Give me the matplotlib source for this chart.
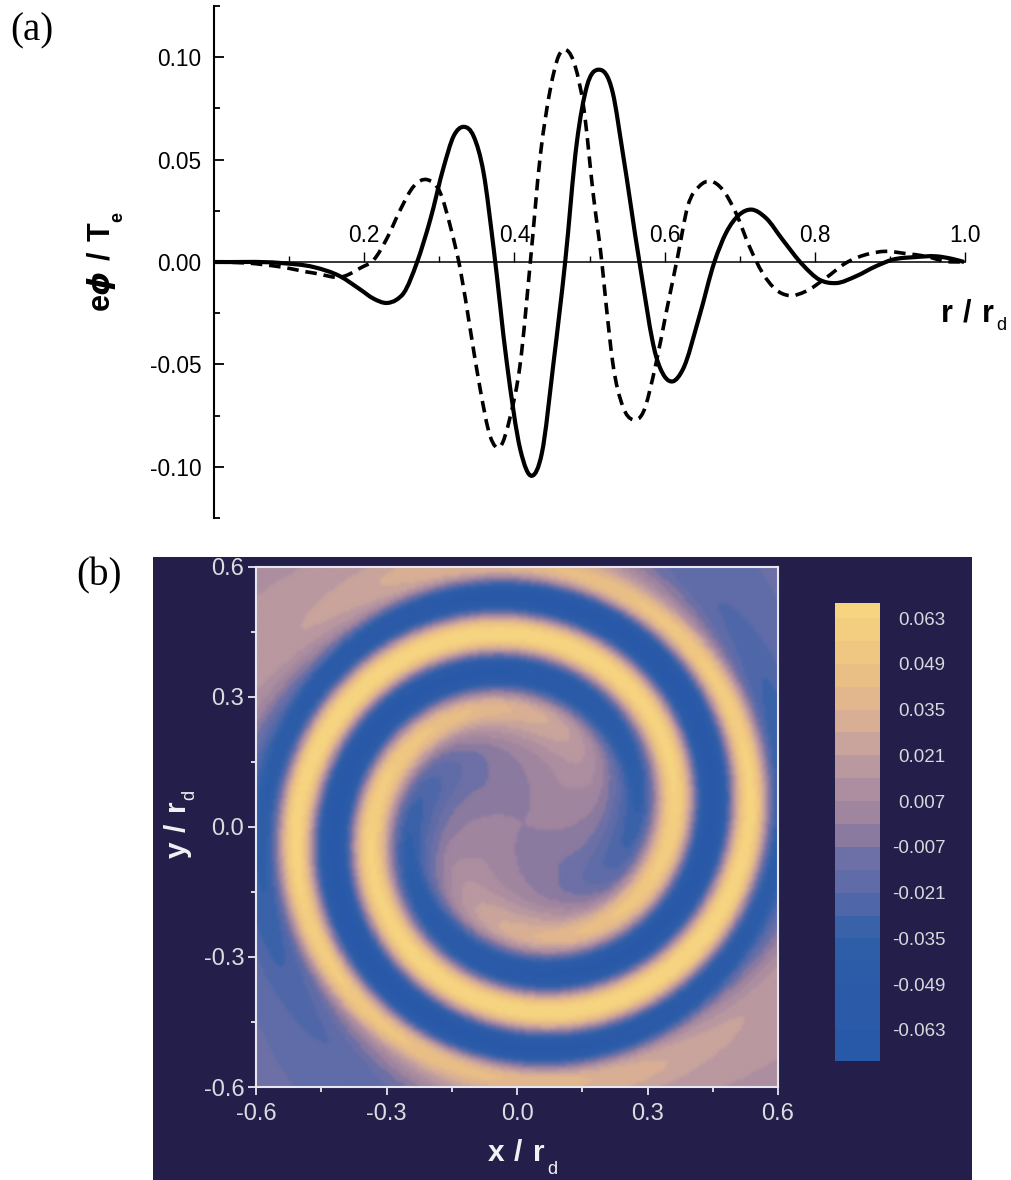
import numpy as np
import matplotlib
matplotlib.use("Agg")
import matplotlib.pyplot as plt
from matplotlib.colors import ListedColormap, BoundaryNorm
from matplotlib.patches import Rectangle, PathPatch
from matplotlib.path import Path

W, H = 1011, 1180

# panel (a), values
r_solid = [0, .089, .133, .168, .195, .212, .2305, .2427, .2527, .270, .288, .306, .319, .3324, .3457, .359,
           .372, .390, .408, .4233, .4366, .452, .4676, .483, .4965, .512, .531, .5443, .5665,
           .5887, .600, .6108, .6241, .6463, .6663, .6818, .6995, .715, .7349, .7571, .7837,
           .806, .8281, .8546, .8812, .9033, .9344, .961, .9832, .9988]
phi_solid = [0, -.0005, -.0025, -.007, -.0135, -.0178, -.0200, -.0185, -.0151, -.0005, .0207, .0466, .0614, .0660,
             .0614, .0435, .0077, -.0495, -.0918, -.1044, -.0933, -.0495, 0, .058, .0858, .0939,
             .0826, .0533, 0, -.0461, -.0559, -.0583, -.0526, -.0265, 0, .0142, .0231, .0256,
             .0215, .0109, -.0013, -.0086, -.0103, -.007, -.0021, .0011, .0024, .0028, .0015, 0]
r_dash = [0, .0443, .0887, .133, .1729, .195, .2128, .2305, .2482, .266, .2837, .3014, .3147, .328,
          .3413, .3546, .3679, .3812, .3945, .4078, .4211, .4344, .4477, .4588, .4699, .4809, .492,
          .5053, .5164, .5222, .531, .5443, .5576, .5709, .5887, .602, .6175, .6308, .6463, .6618,
          .6773, .695, .7128, .7305, .7482, .766, .7881, .8147, .8413, .8679, .8945, .9211, .9477,
          .9743, .9988]
phi_dash = [0, -.0005, -.0024, -.0054, -.007, -.0029, .0011, .0117, .0256, .0370, .0402, .0337, .0174,
            -.0037, -.0331, -.0624, -.0853, -.0901, -.0754, -.0495, -.0005, .0516, .0842, .1005,
            .1034, .0956, .0761, .0321, 0, -.021, -.0493, -.0705, -.077, -.0738, -.0493, -.0249,
            .0028, .0272, .037, .0394, .0353, .0239, .0077, -.0054, -.0135, -.0164, -.0143, -.0078,
            -.0005, .0036, .0052, .0041, .0028, .0003, 0]
xticks_a = [0.2, 0.4, 0.6, 0.8, 1.0]
xminor_a = [0.1, 0.3, 0.5, 0.7, 0.9]
yticks_a = [-0.10, -0.05, 0.00, 0.05, 0.10]
yminor_a = [-0.125, -0.075, -0.025, 0.025, 0.075, 0.125]

# panel (b): spiral mode amplitude and phase against radius
mode_r = [0, .05, .10, .15, .18, .22, .26, .30, .35, .42, .50, .54, .58, .62, .70, .85, .95]
mode_amp = [0, .002, .006, .008, .015, .025, .035, .05, .064, .070, .070, .065, .048, .036, .02, .014, .012]
phase_r = [0, .05, .125, .18, .249, .345, .435, .525, .605, .70, .85, .95]
phase_deg = [20, 50, 90, 122, 180, 360, 540, 720, 900, 986, 1040, 1060]
centre_x, centre_y = 0.014, 0.010

levels = [-.07, -.063, -.056, -.049, -.042, -.035, -.028, -.021, -.014, -.007, 0,
          .007, .014, .021, .028, .035, .042, .049, .056, .063, .07]
level_colors = ['#2858a8', '#2a5aa8', '#2b5ba8', '#2c5ca8', '#2f5ea8', '#3a62a8', '#4f67a8', '#5f6ca8',
                '#6d70a6', '#8b7a9f', '#a0859f', '#ac8ea0', '#ba98a0', '#c9a49c', '#d8af94', '#e2b78d',
                '#e9bf86', '#efc782', '#f3cd80', '#f6d480']
bar_ticks = [-.063, -.049, -.035, -.021, -.007, .007, .021, .035, .049, .063]
bar_labels = ['-0.063', '-0.049', '-0.035', '-0.021', '-0.007', '0.007', '0.021', '0.035', '0.049', '0.063']
ticks_b = [-0.6, -0.3, 0.0, 0.3, 0.6]
minor_b = [-0.45, -0.15, 0.15, 0.45]
ticklabels_b = ['-0.6', '-0.3', '0.0', '0.3', '0.6']

plt.rcParams['font.family'] = ['Liberation Sans', 'DejaVu Sans']
plt.rcParams['mathtext.fontset'] = 'custom'
plt.rcParams['mathtext.rm'] = 'Liberation Sans:bold'
plt.rcParams['mathtext.it'] = 'DejaVu Sans:italic:bold'
plt.rcParams['mathtext.bf'] = 'Liberation Sans:bold'


def px_axes(fig, left, top, right, bottom):
    # axes from pixel edges of the picture
    return fig.add_axes([left / W, 1 - bottom / H, (right - left) / W, (bottom - top) / H])


def smooth_path(xs, ys):
    # bezier pieces through the read points, so the line has no corners
    xs = np.asarray(xs, float)
    ys = np.asarray(ys, float)
    slope = np.gradient(ys, xs)
    verts = [(xs[0], ys[0])]
    codes = [Path.MOVETO]
    for i in range(len(xs) - 1):
        d = (xs[i + 1] - xs[i]) / 3
        verts += [(xs[i] + d, ys[i] + slope[i] * d),
                  (xs[i + 1] - d, ys[i + 1] - slope[i + 1] * d),
                  (xs[i + 1], ys[i + 1])]
        codes += [Path.CURVE4] * 3
    return Path(verts, codes)


fig = plt.figure(figsize=(W / 100, H / 100), dpi=100, facecolor='white')

# ---- panel (a)
ax = px_axes(fig, 214, 6, 965, 518)
ax.set_xlim(0, 1)
ax.set_ylim(-0.125, 0.125)
ax.patch.set_visible(False)
ax.add_patch(PathPatch(smooth_path(r_solid, phi_solid), fill=False, edgecolor='black', lw=3.0, zorder=3))
ax.add_patch(PathPatch(smooth_path(r_dash, phi_dash), fill=False, edgecolor='black', lw=2.6,
                       linestyle=(0, (3.2, 1.9)), zorder=3))
for side in ['top', 'right']:
    ax.spines[side].set_visible(False)
ax.spines['bottom'].set_position(('data', 0))
ax.spines['bottom'].set_linewidth(1.1)
ax.spines['left'].set_linewidth(1.5)
ax.set_xticks(xticks_a)
ax.set_xticks(xminor_a, minor=True)
ax.set_yticks(yticks_a)
ax.set_yticks(yminor_a, minor=True)
ax.set_yticklabels(['-0.10', '-0.05', '0.00', '0.05', '0.10'])
ax.tick_params(axis='x', which='major', direction='in', length=7, width=1,
               labeltop=False, labelbottom=False)
ax.tick_params(axis='x', which='minor', direction='in', length=4, width=1)
ax.tick_params(axis='y', which='major', direction='in', length=7, width=1.3, labelsize=16.3, pad=9)
ax.tick_params(axis='y', which='minor', direction='in', length=4, width=1.3)
for t in xticks_a:
    ax.annotate(f'{t:.1f}', (t, 0), xytext=(0, 11), textcoords='offset points', ha='center',
                va='bottom', fontsize=16.3, zorder=2)

fig.text(101 / W, 1 - 266 / H, '$\\mathrm{e}\\mathit{\u03d5}\\ /\\ \\mathrm{T}$', rotation=90,
         ha='center', va='center', fontsize=22)
fig.text(118 / W, 1 - 217 / H, 'e', rotation=90, ha='center', va='center', fontsize=13, fontweight='bold')
fig.text(967 / W, 1 - 314 / H, '$\\mathrm{r\\ /\\ r}$', ha='center', va='center', fontsize=22)
fig.text(1001 / W, 1 - 326 / H, 'd', ha='center', va='center', fontsize=13)
fig.text(10 / W, 1 - 31 / H, '(a)', family='Liberation Serif', ha='left', va='center', fontsize=28)
fig.text(76 / W, 1 - 576 / H, '(b)', family='Liberation Serif', ha='left', va='center', fontsize=28)

# ---- panel (b)
fig.add_artist(Rectangle((153 / W, 0), (972 - 153) / W, (1180 - 557) / H, transform=fig.transFigure,
                         facecolor='#241f4a', edgecolor='none', zorder=-1))
cmap = ListedColormap(level_colors)
cmap.set_under(level_colors[0])
cmap.set_over(level_colors[-1])
norm = BoundaryNorm(levels, cmap.N)

x = np.linspace(-0.6, 0.6, 200)
y = np.linspace(-0.6, 0.6, 200)
X, Y = np.meshgrid(x, y)
R = np.hypot(X - centre_x, Y - centre_y)
TH = np.arctan2(Y - centre_y, X - centre_x)
r_fine = np.linspace(0, 0.95, 381)
win = np.hanning(25)
win = win / win.sum()
amp_fine = np.convolve(np.pad(np.interp(r_fine, mode_r, mode_amp), 12, mode='edge'), win, mode='valid')
phase_fine = np.convolve(np.pad(np.interp(r_fine, phase_r, phase_deg), 12, mode='edge'), win, mode='valid')
field = np.interp(R, r_fine, amp_fine) * np.cos(2 * TH - np.radians(np.interp(R, r_fine, phase_fine)))

axb = px_axes(fig, 256, 567, 778, 1087)
# the bands are soft in the scan, so blur in colour rather than in value
axb.imshow(field, origin='lower', extent=(-0.6, 0.6, -0.6, 0.6), aspect='auto', cmap=cmap, norm=norm,
           interpolation='bicubic', interpolation_stage='rgba')
axb.set_xlim(-0.6, 0.6)
axb.set_ylim(-0.6, 0.6)
axb.set_xticks(ticks_b)
axb.set_yticks(ticks_b)
axb.set_xticks(minor_b, minor=True)
axb.set_yticks(minor_b, minor=True)
axb.set_xticklabels(ticklabels_b)
axb.set_yticklabels(ticklabels_b)
axb.tick_params(which='major', direction='out', length=5.5, width=1.3, color='#e8e6ee', labelcolor='#dcdce0',
                labelsize=17, pad=3)
axb.tick_params(axis='x', which='major', pad=6)
axb.tick_params(which='minor', direction='out', length=3.5, width=1.3, color='#e8e6ee')
for s in axb.spines.values():
    s.set_color('#e8e6ee')
    s.set_linewidth(1.5)
fig.text(516 / W, 1 - 1153 / H, '$\\mathrm{x\\ /\\ r}$', color='#f2f2f4', ha='center', va='center', fontsize=21.5)
fig.text(552 / W, 1 - 1170 / H, 'd', color='#f2f2f4', ha='center', va='center', fontsize=13)
fig.text(178 / W, 1 - 830 / H, '$\\mathrm{y\\ /\\ r}$', color='#f2f2f4', rotation=90, ha='center', va='center',
         fontsize=21.5)
fig.text(190 / W, 1 - 795 / H, 'd', color='#f2f2f4', rotation=90, ha='center', va='center', fontsize=13)

# colour bar
cax = px_axes(fig, 835, 603, 880, 1061)
bar_edges = [-.0725] + levels[1:-1] + [.0676]
bar_mid = np.array(levels[:-1]) + .0035
cax.pcolormesh([0, 1], bar_edges, bar_mid.reshape(-1, 1), cmap=cmap, norm=norm)
cax.set_xlim(0, 1)
cax.set_ylim(-.0725, .0676)
cax.set_xticks([])
cax.yaxis.tick_right()
cax.set_yticks(bar_ticks)
cax.set_yticklabels(bar_labels, ha='right')
cax.tick_params(axis='y', length=0, labelcolor='#d8d8de', labelsize=13.5, pad=47)
for s in cax.spines.values():
    s.set_visible(False)

fig.savefig('out.png', dpi=100)
